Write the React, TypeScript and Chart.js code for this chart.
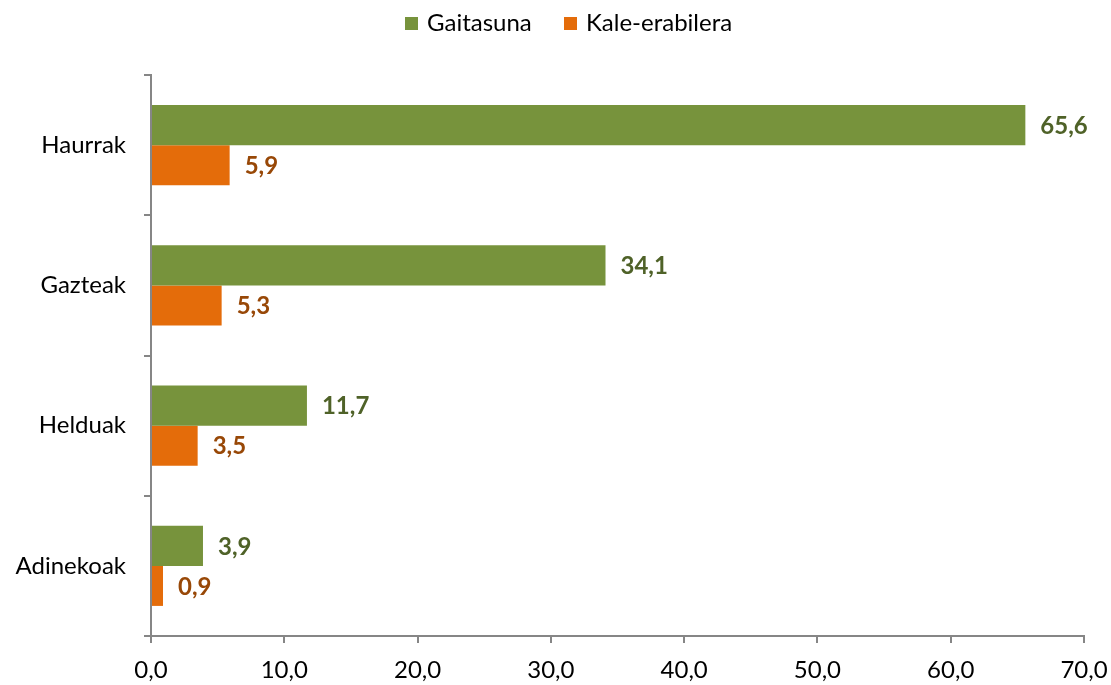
import React, { useEffect, useRef } from "react";
import { Chart, registerables } from "chart.js";

Chart.register(...registerables);

const categories = ["Haurrak", "Gazteak", "Helduak", "Adinekoak"];
const gaitasuna = [65.6, 34.1, 11.7, 3.9];
const kaleErabilera = [5.9, 5.3, 3.5, 0.9];
const seriesNames = ["Gaitasuna", "Kale-erabilera"];
const barColors = ["#77933C", "#E46C0A"];
const labelColors = ["#4F6228", "#984807"];

const FONT = "Lato, 'Open Sans', sans-serif";

const fmt = (v: number) => v.toFixed(1).replace(".", ",");

const dataLabelPlugin = {
  id: "dataLabels",
  afterDatasetsDraw(chart: any) {
    const ctx = chart.ctx;
    ctx.save();
    ctx.font = `bold 24px ${FONT}`;
    ctx.textAlign = "left";
    ctx.textBaseline = "middle";
    chart.data.datasets.forEach((ds: any, di: number) => {
      const meta = chart.getDatasetMeta(di);
      meta.data.forEach((el: any, i: number) => {
        ctx.fillStyle = labelColors[di];
        ctx.fillText(fmt(ds.data[i]), el.x + 15, el.y + 1);
      });
    });
    ctx.restore();
  },
};

const legendPlugin = {
  id: "customLegend",
  afterDraw(chart: any) {
    const ctx = chart.ctx;
    ctx.save();
    ctx.font = `24px ${FONT}`;
    ctx.textBaseline = "middle";
    ctx.textAlign = "left";
    const boxX = [405, 564];
    seriesNames.forEach((name, i) => {
      ctx.fillStyle = barColors[i];
      ctx.fillRect(boxX[i], 17, 13, 13);
      ctx.fillStyle = "#000000";
      ctx.fillText(name, boxX[i] + 22, 23);
    });
    ctx.restore();
  },
};

export default function App() {
  const ref = useRef<HTMLCanvasElement>(null);
  useEffect(() => {
    if (!ref.current) return;
    const chart = new Chart(ref.current, {
      type: "bar",
      data: {
        labels: categories,
        datasets: [
          {
            label: seriesNames[0],
            data: gaitasuna,
            backgroundColor: barColors[0],
            categoryPercentage: 0.571,
            barPercentage: 1,
          },
          {
            label: seriesNames[1],
            data: kaleErabilera,
            backgroundColor: barColors[1],
            categoryPercentage: 0.571,
            barPercentage: 1,
          },
        ],
      },
      options: {
        indexAxis: "y",
        responsive: false,
        animation: false,
        layout: { padding: { top: 75, right: 27, left: 0, bottom: 0 } },
        plugins: {
          legend: { display: false },
          tooltip: { enabled: false },
        },
        scales: {
          x: {
            min: 0,
            max: 70,
            ticks: {
              stepSize: 10,
              color: "#000000",
              font: { family: FONT, size: 24 },
              padding: 13,
              callback: (v: any) => fmt(Number(v)),
            },
            grid: {
              drawOnChartArea: false,
              drawTicks: true,
              tickLength: 7,
              color: "#868686",
              lineWidth: 2,
            },
            border: { display: true, color: "#868686", width: 2 },
            afterFit: (s: any) => {
              s.height = 49;
              s.paddingLeft = 0;
              s.paddingRight = 0;
            },
          },
          y: {
            offset: true,
            ticks: {
              color: "#000000",
              font: { family: FONT, size: 24 },
              padding: 18,
            },
            grid: {
              offset: true,
              drawOnChartArea: false,
              drawTicks: true,
              tickLength: 7,
              color: "#868686",
              lineWidth: 2,
            },
            border: { display: true, color: "#868686", width: 2 },
            afterFit: (s: any) => {
              s.width = 151;
              s.paddingTop = 0;
              s.paddingBottom = 0;
            },
          },
        },
      },
      plugins: [dataLabelPlugin, legendPlugin],
    });
    return () => chart.destroy();
  }, []);
  return (
    <div style={{ position: "fixed", left: 0, top: 0, width: 1111, height: 685, background: "#fff" }}>
      <canvas ref={ref} width={1111} height={685} style={{ display: "block" }} />
    </div>
  );
}
